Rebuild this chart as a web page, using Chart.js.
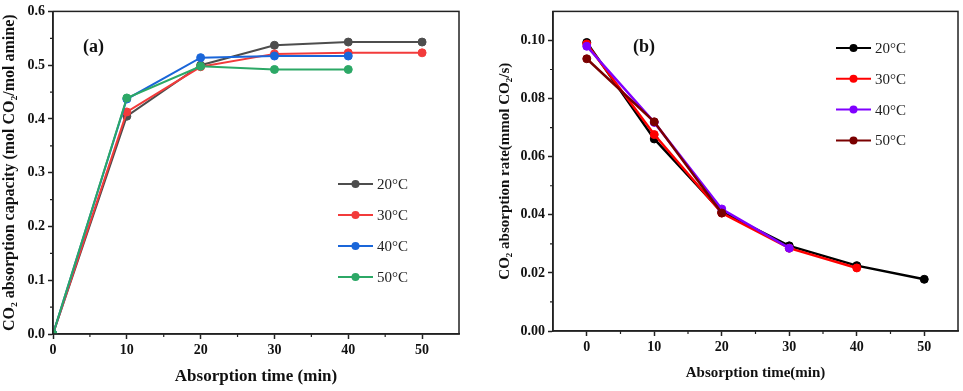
<!DOCTYPE html>
<html>
<head>
<meta charset="utf-8">
<script src="https://cdn.jsdelivr.net/npm/chart.js@4.4.0/dist/chart.umd.min.js"></script>
<style>
  body { margin: 0; background: #fff; }
  canvas { position: absolute; top: 0; }
</style>
</head>
<body>
<canvas id="chartA" width="480" height="391" style="left:0px"></canvas>
<canvas id="chartB" width="483" height="391" style="left:480px"></canvas>
<script>
// Absorption time (min)
const times = [0, 10, 20, 30, 40, 50];
const tempLabels = ['20°C', '30°C', '40°C', '50°C'];

// (a) CO2 absorption capacity (mol CO2/mol amine)
const capacity20 = [0, 0.405, 0.500, 0.537, 0.543, 0.543];
const capacity30 = [0, 0.413, 0.497, 0.521, 0.523, 0.523];
const capacity40 = [0, 0.437, 0.514, 0.517, 0.517];
const capacity50 = [0, 0.439, 0.498, 0.492, 0.492];

// (b) CO2 absorption rate (mmol CO2/s)
const rate20 = [0.0993, 0.0661, 0.0410, 0.0293, 0.0225, 0.0178];
const rate30 = [0.0988, 0.0676, 0.0406, 0.0285, 0.0217];
const rate40 = [0.0980, 0.0718, 0.0420, 0.0285];
const rate50 = [0.0937, 0.0720, 0.0406];

// tick values
const xTicks = [0, 10, 20, 30, 40, 50];
const xMinor = [5, 15, 25, 35, 45];
const yTicksA = [0, 0.1, 0.2, 0.3, 0.4, 0.5, 0.6];
const yMinorA = [0.05, 0.15, 0.25, 0.35, 0.45, 0.55];
const yTicksB = [0, 0.02, 0.04, 0.06, 0.08, 0.10];
const yMinorB = [0.01, 0.03, 0.05, 0.07, 0.09];

const colorsA = ['#4d4d4d', '#f23b3b', '#1a66d9', '#2ca866'];
const colorsB = ['#000000', '#ff0000', '#8000ff', '#7a0000'];

const serif = '"Liberation Serif", "Times New Roman", serif';
const axisColor = '#222';

function toPoints(values) {
    return values.map((v, i) => ({ x: times[i], y: v }));
}

function makeDataset(label, values, color, idx, width) {
    return {
        label: label,
        data: toPoints(values),
        order: -idx, // later series drawn on top
        borderColor: color,
        backgroundColor: color,
        pointBackgroundColor: color,
        pointBorderColor: color,
        borderWidth: width,
        pointRadius: 4,
        pointBorderWidth: 1,
        tension: 0,
        fill: false
    };
}

// frame, minor ticks, panel tag and legend drawn over the chart
const framePlugin = {
    id: 'frame',
    afterDraw(chart, args, opts) {
        const ctx = chart.ctx;
        const a = chart.chartArea;
        const sx = chart.scales.x;
        const sy = chart.scales.y;
        ctx.save();
        ctx.strokeStyle = axisColor;
        ctx.lineWidth = 1.5;
        ctx.strokeRect(a.left, a.top, a.right - a.left, a.bottom - a.top);

        // minor ticks
        ctx.lineWidth = 1.2;
        ctx.beginPath();
        opts.xMinor.forEach(v => {
            const px = sx.getPixelForValue(v);
            ctx.moveTo(px, a.bottom);
            ctx.lineTo(px, a.bottom + 3);
        });
        opts.yMinor.forEach(v => {
            const py = sy.getPixelForValue(v);
            ctx.moveTo(a.left, py);
            ctx.lineTo(a.left - 3, py);
        });
        ctx.stroke();

        // panel tag
        ctx.fillStyle = '#111';
        ctx.textBaseline = 'middle';
        ctx.textAlign = 'left';
        ctx.font = 'bold 18px ' + serif;
        ctx.fillText(opts.tag, opts.tagX, opts.tagY);

        // legend
        ctx.font = '15px ' + serif;
        chart.data.datasets.forEach((ds, i) => {
            const y = opts.legY + i * opts.legGap;
            ctx.strokeStyle = ds.borderColor;
            ctx.lineWidth = 2;
            ctx.beginPath();
            ctx.moveTo(opts.legX, y);
            ctx.lineTo(opts.legX + 35, y);
            ctx.stroke();
            ctx.fillStyle = ds.borderColor;
            ctx.beginPath();
            ctx.arc(opts.legX + 17.5, y, 4, 0, Math.PI * 2);
            ctx.fill();
            ctx.fillStyle = '#222';
            ctx.fillText(ds.label, opts.legX + 39, y + 1);
        });
        ctx.restore();
    }
};

function makeChart(id, cfg) {
    return new Chart(document.getElementById(id), {
        type: 'line',
        data: { datasets: cfg.datasets },
        plugins: [framePlugin],
        options: {
            responsive: false,
            animation: false,
            layout: { padding: cfg.padding },
            plugins: {
                legend: { display: false },
                tooltip: { enabled: false },
                frame: cfg.frame
            },
            scales: {
                x: {
                    type: 'linear',
                    min: cfg.xMin,
                    max: 55,
                    afterBuildTicks: s => { s.ticks = xTicks.map(v => ({ value: v })); },
                    afterFit: s => { s.height = cfg.xHeight; },
                    grid: { drawOnChartArea: false, drawTicks: true, tickLength: 5, tickWidth: 1.5, tickColor: axisColor },
                    border: { display: true, color: axisColor, width: 1.5 },
                    ticks: { color: '#111', padding: 3, maxRotation: 0, font: { family: serif, size: 14, weight: 'bold' } },
                    title: {
                        display: true,
                        text: cfg.xTitle,
                        color: '#111',
                        padding: { top: 0, bottom: cfg.xTitlePad },
                        font: { family: serif, size: cfg.xTitleSize, weight: 'bold' }
                    }
                },
                y: {
                    type: 'linear',
                    min: 0,
                    max: cfg.yMax,
                    afterBuildTicks: s => { s.ticks = cfg.yTicks.map(v => ({ value: v })); },
                    afterFit: s => { s.width = cfg.yWidth; },
                    grid: { drawOnChartArea: false, drawTicks: true, tickLength: 5, tickWidth: 1.5, tickColor: axisColor },
                    border: { display: true, color: axisColor, width: 1.5 },
                    ticks: {
                        color: '#111',
                        padding: 3,
                        font: { family: serif, size: 14, weight: 'bold' },
                        callback: v => v.toFixed(cfg.digits)
                    },
                    title: {
                        display: true,
                        text: cfg.yTitle,
                        color: '#111',
                        padding: { top: cfg.yTitlePad, bottom: 0 },
                        font: { family: serif, size: cfg.yTitleSize, weight: 'bold' }
                    }
                }
            }
        }
    });
}

makeChart('chartA', {
    datasets: [
        makeDataset(tempLabels[0], capacity20, colorsA[0], 0, 2),
        makeDataset(tempLabels[1], capacity30, colorsA[1], 1, 2),
        makeDataset(tempLabels[2], capacity40, colorsA[2], 2, 2),
        makeDataset(tempLabels[3], capacity50, colorsA[3], 3, 2)
    ],
    padding: { left: 0, right: 21, top: 9, bottom: 0 },
    xMin: 0,
    yMax: 0.6,
    yTicks: yTicksA,
    digits: 1,
    xHeight: 57,
    yWidth: 53,
    xTitle: 'Absorption time (min)',
    xTitleSize: 17,
    xTitlePad: 4,
    yTitle: 'CO₂ absorption capacity (mol CO₂/mol amine)',
    yTitleSize: 16,
    yTitlePad: 0,
    frame: { xMinor: xMinor, yMinor: yMinorA, tag: '(a)', tagX: 83, tagY: 47, legX: 338, legY: 184, legGap: 31 }
});

makeChart('chartB', {
    datasets: [
        makeDataset(tempLabels[0], rate20, colorsB[0], 0, 2.5),
        makeDataset(tempLabels[1], rate30, colorsB[1], 1, 2.5),
        makeDataset(tempLabels[2], rate40, colorsB[2], 2, 2.5),
        makeDataset(tempLabels[3], rate50, colorsB[3], 3, 2.5)
    ],
    padding: { left: 0, right: 5, top: 5, bottom: 0 },
    xMin: -5,
    yMax: 0.11,
    yTicks: yTicksB,
    digits: 2,
    xHeight: 60,
    yWidth: 73,
    xTitle: 'Absorption time(min)',
    xTitleSize: 15,
    xTitlePad: 9,
    yTitle: 'CO₂ absorption rate(mmol CO₂/s)',
    yTitleSize: 15,
    yTitlePad: 16,
    frame: { xMinor: xMinor, yMinor: yMinorB, tag: '(b)', tagX: 153, tagY: 47, legX: 356, legY: 48, legGap: 30.8 }
});
</script>
</body>
</html>
